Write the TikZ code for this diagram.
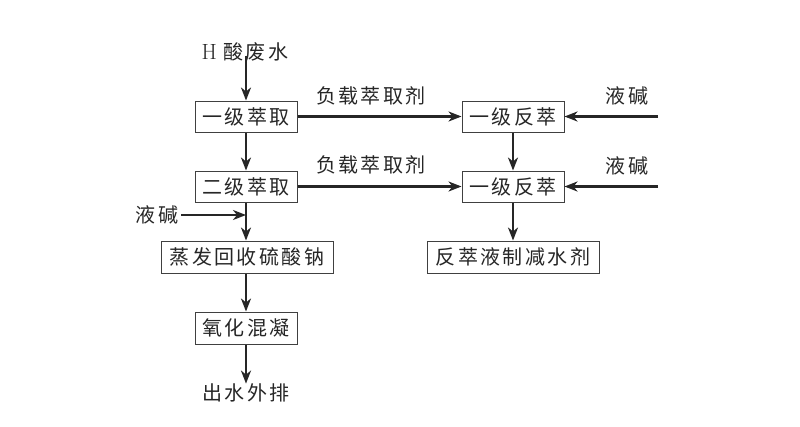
\documentclass[tikz,border=0pt]{standalone}
\usepackage{fontspec}
\newfontfamily\cjk[LetterSpace=12]{Noto Sans CJK SC}
\usetikzlibrary{arrows.meta}
\begin{document}
\begin{tikzpicture}[x=1pt,y=-1pt,
  box/.style={draw=black!75,line width=1pt,inner sep=0pt,minimum height=31pt,font=\cjk\fontsize{20}{20}\selectfont,text=black!85},
  lbl/.style={inner sep=0pt,font=\cjk\fontsize{20}{20}\selectfont,text=black!85},
  flow/.style={line width=2.6pt,draw=black!85,-{Stealth[length=13pt,width=10pt,inset=4pt]}}]
\useasboundingbox[fill=white] (0,0) rectangle (800,426);
\node[lbl] (src) at (245,52) {\fontspec{Latin Modern Roman}\fontsize{22}{22}\selectfont H\ \cjk\fontsize{20}{20}\selectfont 酸废水};
\node[box,minimum width=102pt] (b1) at (246,116.5) {一级萃取};
\node[box,minimum width=102pt] (b2) at (246,186.5) {二级萃取};
\node[box,minimum width=172pt,minimum height=32pt] (b3) at (247,257) {蒸发回收硫酸钠};
\node[box,minimum width=102pt,minimum height=32pt] (b4) at (246,328) {氧化混凝};
\node[lbl] (out) at (246,393) {出水外排};
\node[box,minimum width=102pt] (r1) at (513,116.5) {一级反萃};
\node[box,minimum width=102pt] (r2) at (513,186.5) {一级反萃};
\node[box,minimum width=172pt,minimum height=32pt] (r3) at (513,257) {反萃液制减水剂};
\node[lbl] (l1) at (371,96) {负载萃取剂};
\node[lbl] (l2) at (371,165) {负载萃取剂};
\node[lbl] (a1) at (627,96) {液碱};
\node[lbl] (a2) at (627,166) {液碱};
\node[lbl] (a3) at (157,215) {液碱};
\coordinate (s1) at (658,116.5);
\coordinate (s2) at (658,186.5);
\coordinate (j) at (246,215);
\draw[flow] ([yshift=5pt]src.south -| b1) -- (b1.north);
\draw[flow] (b1) -- (b2);
\draw[flow] (b2) -- (b3.north -| b2);
\draw[flow] ([xshift=3pt]a3.east) -- (j);
\draw[flow] (b3.south -| b4) -- (b4);
\draw[flow] (b4) -- (out.north -| b4);
\draw[flow] (b1) -- (r1);
\draw[flow] (b2) -- (r2);
\draw[flow] (s1) -- (r1);
\draw[flow] (s2) -- (r2);
\draw[flow] (r1) -- (r2);
\draw[flow] (r2) -- (r3);
\end{tikzpicture}
\end{document}
